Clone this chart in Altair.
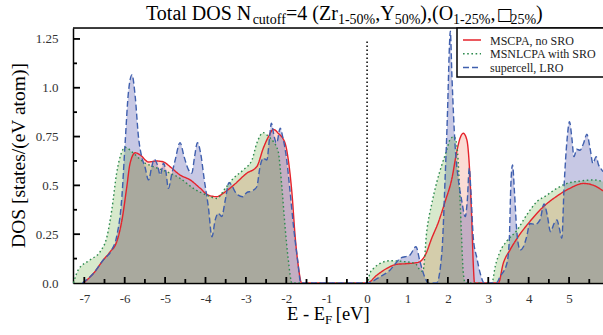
import altair as alt
import pandas as pd

# ---------------- data ----------------
SERIES = ["MSCPA, no SRO", "MSNLCPA with SRO", "supercell, LRO"]

red_E = [-7.02, -6.77, -6.53, -6.36, -6.20, -6.07, -5.95, -5.87, -5.74, -5.62, -5.41, -5.21, -5.04,
         -4.88, -4.63, -4.38, -4.13, -3.93, -3.72, -3.56, -3.31, -2.98, -2.73, -2.57, -2.44, -2.32,
         -2.20, -2.03, -1.95, -1.86, -1.78, -1.70, -1.62, 0.00, 0.24, 0.49, 0.74, 0.98, 1.27, 1.44,
         1.60, 1.77, 1.93, 2.10, 2.22, 2.30, 2.38, 2.47, 2.53, 2.59, 2.63, 2.66, 3.25, 3.37, 3.54,
         3.75, 4.03, 4.36, 4.70, 5.02, 5.36, 5.61, 5.84]
red_D = [0.0, 0.05, 0.118, 0.16, 0.21, 0.32, 0.49, 0.61, 0.667, 0.656, 0.62, 0.625, 0.62,
         0.596, 0.553, 0.528, 0.485, 0.45, 0.442, 0.46, 0.50, 0.562, 0.596, 0.69, 0.75, 0.787,
         0.767, 0.716, 0.63, 0.46, 0.237, 0.083, 0.0, 0.0, 0.04, 0.075, 0.096, 0.099, 0.106, 0.143,
         0.229, 0.314, 0.416, 0.536, 0.673, 0.741, 0.767, 0.733, 0.605, 0.331, 0.092, 0.0, 0.0, 0.10, 0.17,
         0.24, 0.315, 0.39, 0.445, 0.485, 0.51, 0.50, 0.472]

green_E = [-7.27, -7.15, -6.86, -6.61, -6.44, -6.32, -6.20, -6.07, -5.99, -5.78, -5.54, -5.29, -4.96,
           -4.63, -4.30, -3.97, -3.72, -3.51, -3.31, -3.06, -2.85, -2.73, -2.57, -2.44, -2.32, -2.20,
           -2.11, -2.03, -1.95, -1.86, 0.00, 0.07, 0.16, 0.32, 0.57, 0.90, 1.19, 1.31, 1.38, 1.48,
           1.60, 1.73, 1.85, 1.96, 2.05, 2.15, 2.22, 2.26, 2.30, 2.34, 2.38, 2.43, 3.09, 3.17, 3.29,
           3.46, 3.71, 3.95, 4.20, 4.45, 4.70, 4.95, 5.27, 5.61, 5.84]
green_D = [0.0, 0.067, 0.118, 0.16, 0.237, 0.374, 0.562, 0.673, 0.695, 0.664, 0.62, 0.596, 0.57,
           0.536, 0.485, 0.45, 0.433, 0.485, 0.536, 0.58, 0.63, 0.716, 0.77, 0.75, 0.724, 0.673,
           0.493, 0.288, 0.118, 0.0, 0.0, 0.05, 0.075, 0.10, 0.114, 0.11, 0.10, 0.067, 0.06, 0.27,
           0.405, 0.52, 0.605, 0.673, 0.733, 0.75, 0.707, 0.605, 0.434, 0.229, 0.058, 0.0, 0.0, 0.083, 0.16,
           0.215, 0.27, 0.348, 0.416, 0.45, 0.485, 0.51, 0.522, 0.528, 0.519]

blue_E = [-7.05, -6.77, -6.53, -6.32, -6.20, -6.07, -5.99, -5.91, -5.82, -5.74, -5.66, -5.58, -5.50,
          -5.41, -5.33, -5.27, -5.19, -5.12, -5.04, -4.98, -4.92, -4.83, -4.75, -4.63, -4.53, -4.42,
          -4.34, -4.27, -4.20, -4.12, -4.03, -3.93, -3.84, -3.76, -3.68, -3.60, -3.51, -3.42, -3.35,
          -3.27, -3.19, -3.08, -2.98, -2.85, -2.73, -2.65, -2.57, -2.48, -2.42, -2.37, -2.30, -2.24,
          -2.15, -2.09, -2.00, -1.91, -1.82, -1.72, -1.64, 0.00, 0.32, 0.57, 0.74, 0.82, 1.06, 1.21,
          1.31, 1.44, 1.52, 1.72, 1.85, 1.93, 1.99, 2.04, 2.06, 2.10, 2.18, 2.26, 2.34, 2.43, 2.48,
          2.53, 2.57, 2.63, 2.72, 2.80, 2.90, 3.20, 3.29, 3.46, 3.52, 3.56, 3.60, 3.65, 3.71, 3.79,
          3.87, 3.95, 4.03, 4.16, 4.28, 4.38, 4.46, 4.54, 4.63, 4.70, 4.76, 4.82, 4.88, 4.95, 5.01,
          5.07, 5.12, 5.19, 5.27, 5.36, 5.44, 5.52, 5.59, 5.67, 5.73, 5.78, 5.84]
blue_D = [0.0, 0.05, 0.118, 0.17, 0.237, 0.44, 0.716, 0.972, 1.066, 0.955, 0.75, 0.647, 0.596,
          0.528, 0.596, 0.634, 0.605, 0.553, 0.613, 0.57, 0.485, 0.562, 0.63, 0.719, 0.647, 0.579,
          0.562, 0.647, 0.719, 0.664, 0.528, 0.391, 0.237, 0.323, 0.357, 0.34, 0.425, 0.514, 0.50,
          0.468, 0.45, 0.442, 0.463, 0.471, 0.493, 0.596, 0.639, 0.63, 0.733, 0.818, 0.75, 0.716,
          0.793, 0.75, 0.647, 0.476, 0.288, 0.118, 0.0, 0.0, 0.032, 0.067, 0.109, 0.126, 0.143, 0.186,
          0.109, 0.024, 0.0, 0.0, 0.152, 0.528, 0.869, 1.22, 1.29, 1.06, 0.70, 0.528, 0.425, 0.34, 0.42,
          0.588, 0.468, 0.229, 0.126, 0.05, 0.0, 0.0, 0.032, 0.10, 0.22, 0.51, 0.605, 0.46, 0.254, 0.169,
          0.186, 0.237, 0.305, 0.30, 0.323, 0.405, 0.348, 0.263, 0.305, 0.323, 0.28, 0.229, 0.51, 0.733, 0.826,
          0.741, 0.647, 0.685, 0.68, 0.716, 0.762, 0.69, 0.613, 0.647, 0.605, 0.588, 0.57]

x_major = [-7, -6, -5, -4, -3, -2, -1, 0, 1, 2, 3, 4, 5]
x_minor = [-6.5, -5.5, -4.5, -3.5, -2.5, -1.5, -0.5, 0.5, 1.5, 2.5, 3.5, 4.5, 5.5]
y_major = [0, 0.25, 0.5, 0.75, 1.0, 1.25]
y_minor = [0.125, 0.375, 0.625, 0.875, 1.125]

# ---------------- layout / style ----------------
FONT = "Liberation Serif"
W, H = 530, 255
PAD = {"left": 73, "top": 28, "right": 0, "bottom": 52}
X_DOM = [-7.28, 5.84]
Y_DOM = [0, 1.306]

line_colors = {SERIES[0]: "#e5232b", SERIES[1]: "#2e8b4f", SERIES[2]: "#3f5fae"}
fill_colors = {SERIES[0]: "#eb3c14", SERIES[1]: "#4b9b17", SERIES[2]: "#1f2493"}
fill_opac = {SERIES[0]: 0.18, SERIES[1]: 0.22, SERIES[2]: 0.25}
dashes = {SERIES[0]: [1, 0], SERIES[1]: [1.6, 2.6], SERIES[2]: [6, 3]}
FILL_ORDER = [SERIES[0], SERIES[2], SERIES[1]]

df = pd.concat([
    pd.DataFrame({"E": red_E, "DOS": red_D, "series": SERIES[0]}),
    pd.DataFrame({"E": green_E, "DOS": green_D, "series": SERIES[1]}),
    pd.DataFrame({"E": blue_E, "DOS": blue_D, "series": SERIES[2]}),
], ignore_index=True)

xs = alt.Scale(domain=X_DOM, nice=False, zero=False)
ys = alt.Scale(domain=Y_DOM, nice=False, zero=False)

x_axis = alt.Axis(values=x_major, labelExpr="toString(datum.value)", title=None, grid=False,
                  ticks=False, tickSize=0, labelPadding=9, labelFont=FONT, labelFontSize=13,
                  labelColor="#333", domainColor="black", domainWidth=1.5, labelFlush=False)
y_axis = alt.Axis(values=y_major,
                  labelExpr="datum.value == 0 ? '0.0' : datum.value == 0.5 ? '0.5' : datum.value == 1 ? '1.0' : toString(datum.value)",
                  title=None, grid=False, ticks=False, tickSize=0, labelPadding=15, labelFont=FONT,
                  labelFontSize=13, labelColor="#333", domainColor="black", domainWidth=1.5,
                  labelFlush=False)

layers = []
for s in FILL_ORDER:
    layers.append(alt.Chart(df[df["series"] == s]).mark_area(
        interpolate="monotone", clip=True, color=fill_colors[s], fillOpacity=fill_opac[s]
    ).encode(x=alt.X("E:Q", scale=xs, axis=x_axis),
             y=alt.Y("DOS:Q", scale=ys, stack=None, axis=y_axis)))

for s in SERIES:
    layers.append(alt.Chart(df[df["series"] == s]).mark_line(
        strokeWidth=1.4, interpolate="monotone", clip=True, color=line_colors[s],
        strokeDash=dashes[s]).encode(x=alt.X("E:Q", scale=xs, axis=x_axis),
                                     y=alt.Y("DOS:Q", scale=ys, axis=y_axis)))

def xticks(vals, length):
    return alt.Chart(pd.DataFrame({"v": vals})).mark_rule(color="black", strokeWidth=1.8).encode(
        x=alt.X("v:Q", scale=xs, axis=x_axis), y=alt.value(H), y2=alt.value(H - length))

def yticks(vals, length):
    return alt.Chart(pd.DataFrame({"v": vals})).mark_rule(color="black", strokeWidth=1.8).encode(
        y=alt.Y("v:Q", scale=ys, axis=y_axis), x=alt.value(0), x2=alt.value(length))

layers += [xticks(x_major, 6), xticks(x_minor, 4), yticks(y_major[1:], 7), yticks(y_minor, 4)]

layers.append(alt.Chart(pd.DataFrame({"v": [0]})).mark_rule(
    color="black", strokeWidth=1.5, strokeDash=[1.5, 2.5]).encode(
    x=alt.X("v:Q", scale=xs, axis=x_axis), y=alt.datum(0), y2=alt.datum(1.25)))

layers.append(alt.Chart(pd.DataFrame({"a": [0]})).mark_rule(color="black", strokeWidth=1.5).encode(
    x=alt.value(0), x2=alt.value(W), y=alt.value(0)))

# ---------------- legend (box, line samples, labels) ----------------
one = pd.DataFrame({"a": [0]})
LX, LY, LH = 384, 0, 49
layers.append(alt.Chart(one).mark_rect(fill="white", stroke="black", strokeWidth=1.5).encode(
    x=alt.value(LX), x2=alt.value(LX + 180), y=alt.value(LY), y2=alt.value(LY + LH)))
for i, s in enumerate(SERIES):
    yy = LY + 12 + 13.8 * i
    layers.append(alt.Chart(one).mark_rule(color=line_colors[s], strokeWidth=1.5,
                                           strokeDash=dashes[s]).encode(
        x=alt.value(LX + 6), x2=alt.value(LX + 24), y=alt.value(yy)))
    layers.append(alt.Chart(pd.DataFrame({"t": [s]})).mark_text(
        font=FONT, fontSize=12, align="left", baseline="middle", color="#222").encode(
        text="t:N", x=alt.value(LX + 33), y=alt.value(yy + 0.5)))

# ---------------- text with subscripts ----------------
CW = {' ': 250, '(': 333, ')': 333, ',': 250, '-': 333, '%': 833, '=': 564, '[': 333, ']': 333,
      'T': 611, 'o': 500, 't': 278, 'a': 444, 'l': 278, 'D': 722, 'O': 722, 'S': 556, 'N': 722,
      'c': 444, 'u': 500, 'f': 333, 'Z': 611, 'r': 333, 'Y': 722, 'E': 611, 'F': 556, 'e': 444,
      'V': 722}
for d in "0123456789":
    CW[d] = 500

def tw(s, size):
    return sum(CW.get(ch, 600) for ch in s) * size / 1000.0

def txt(s, x, y, size, font=FONT, align="left", angle=0):
    kw = dict(font=font, fontSize=size, align=align, baseline="alphabetic", color="black")
    if angle:
        kw["angle"] = angle
        kw["baseline"] = "middle"
    return alt.Chart(pd.DataFrame({"t": [s]})).mark_text(**kw).encode(
        text="t:N", x=alt.value(x), y=alt.value(y))

MAIN, SUB = 20, 14
title_parts = [("Total DOS N", "m"), ("cutoff", "s"), ("=4 (Zr", "m"), ("1-50%", "s"),
               (",Y", "m"), ("50%", "s"), ("),(O", "m"), ("1-25%", "s"), (",", "m"),
               ("\u25a1", "b"), ("25%", "s"), (")", "m")]
cx = 73
for s, kind in title_parts:
    if kind == "m":
        layers.append(txt(s, cx, -8, MAIN))
        cx += tw(s, MAIN)
    elif kind == "s":
        layers.append(txt(s, cx, -4, SUB))
        cx += tw(s, SUB)
    else:
        layers.append(txt(s, cx + 1, -8, 17, font="DejaVu Sans"))
        cx += 15

# x axis title: E - E_F [eV]
AX = 18.5
anchor = 252
layers.append(txt("E - E", anchor, 292, AX, align="right"))
layers.append(txt("F", anchor, 296, 13))
layers.append(txt("[eV]", anchor + tw("F", 13) + 3.5, 292, AX))
# y axis title
layers.append(txt("DOS [states/(eV atom)]", -54, H / 2, 19.5, align="center", angle=270))

chart = alt.layer(*layers).properties(
    width=W, height=H, padding=PAD,
    autosize=alt.AutoSizeParams(type="none"),
).configure_view(strokeWidth=0).configure(background="white")

chart.save("out.html", embed_options={"renderer": "svg", "actions": False})
